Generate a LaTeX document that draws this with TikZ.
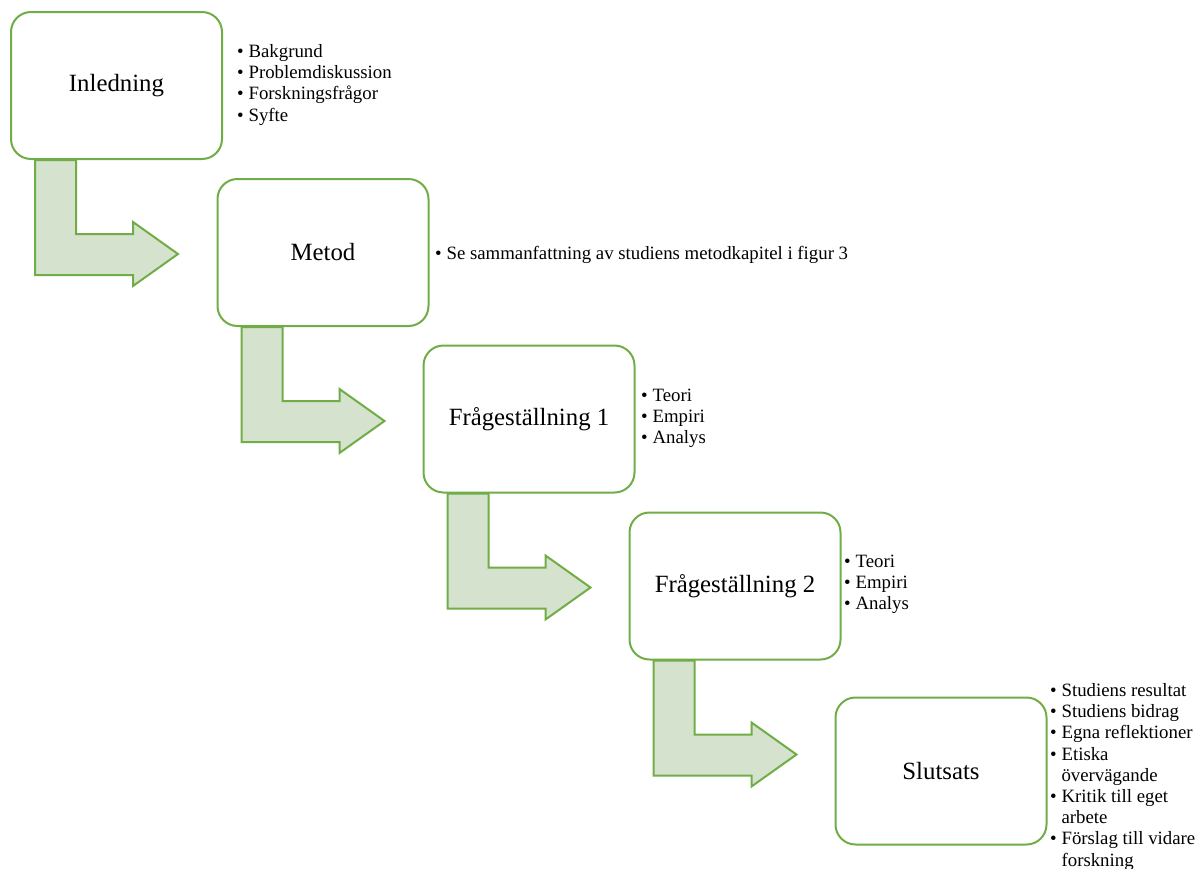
\documentclass[tikz,border=0pt]{standalone}
\usepackage{fontspec}
\setmainfont{Liberation Serif}
\usetikzlibrary{calc, positioning}
\definecolor{boxgreen}{HTML}{70AD47}
\definecolor{arrowgreen}{HTML}{D5E3CE}

\begin{document}
\begin{tikzpicture}[x=0.5pt,y=-0.5pt,line width=1pt,
	box/.style={draw=boxgreen,fill=white,rounded corners=10pt,minimum width=105.5pt,minimum height=73.5pt,inner sep=0pt,font=\fontsize{12.4}{14}\selectfont},
	items/.style={anchor=west,inner sep=0pt,align=left,font=\fontsize{9.4}{10.6}\selectfont}]
	\tikzset{flow/.style={draw=boxgreen,fill=arrowgreen,line join=miter}}
	\useasboundingbox (0,0) rectangle (1200,868);
	\node[box] (inl) at (116.5,85.5) {Inledning};
	\node[box] (met) at (323,252.5) {Metod};
	\node[box] (fr1) at (529,419) {Frågeställning 1};
	\node[box] (fr2) at (735,586) {Frågeställning 2};
	\node[box] (slu) at (941,771) {Slutsats};
	\node[items] (inlItems) at (236,85) {\begin{tabular}{@{}l@{\hspace{2.5pt}}l@{}}
		\textbullet & Bakgrund\\
		\textbullet & Problemdiskussion\\
		\textbullet & Forskningsfrågor\\
		\textbullet & Syfte
	\end{tabular}};
	\node[items] (metItems) at (434,255) {\textbullet\hspace{2.5pt}Se sammanfattning av studiens metodkapitel i figur 3};
	\node[items] (fr1Items) at (640,418) {\begin{tabular}{@{}l@{\hspace{2.5pt}}l@{}}
		\textbullet & Teori\\
		\textbullet & Empiri\\
		\textbullet & Analys
	\end{tabular}};
	\node[items] (fr2Items) at (843,584) {\begin{tabular}{@{}l@{\hspace{2.5pt}}l@{}}
		\textbullet & Teori\\
		\textbullet & Empiri\\
		\textbullet & Analys
	\end{tabular}};
	\node[items] (sluItems) at (1049,777) {\begin{tabular}{@{}l@{\hspace{2.5pt}}l@{}}
		\textbullet & Studiens resultat\\
		\textbullet & Studiens bidrag\\
		\textbullet & Egna reflektioner\\
		\textbullet & Etiska\\
		 & övervägande\\
		\textbullet & Kritik till eget\\
		 & arbete\\
		\textbullet & Förslag till vidare\\
		 & forskning
	\end{tabular}};
	% bent arrows below each box
	\foreach \a in {inl, met, fr1, fr2}
		\draw[flow] ($(\a.south west)+(25,0)$) -- ++(0,115) -- ++(98,0) -- ++(0,11) -- ++(45,-32) -- ++(-45,-32) -- ++(0,12) -- ++(-57,0) -- ++(0,-74) -- cycle;
\end{tikzpicture}
\end{document}
